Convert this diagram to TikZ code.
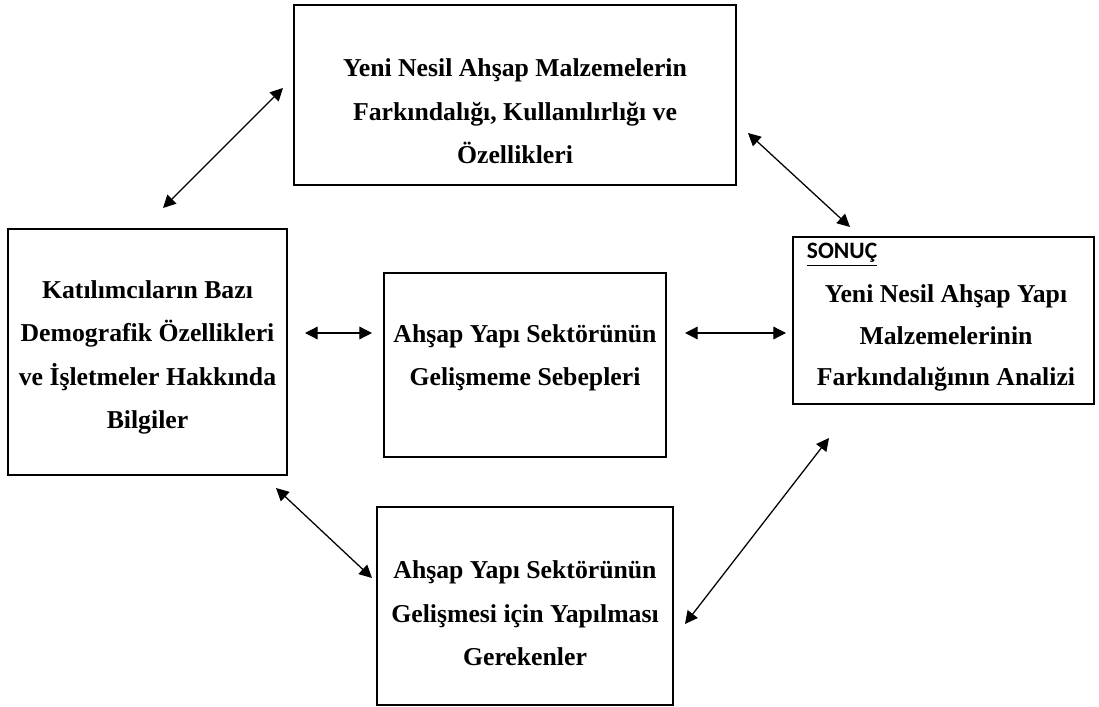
\documentclass[tikz,border=0pt]{standalone}
\usepackage{fontspec}
\setmainfont{Liberation Serif}
\newfontfamily\sonucfont{Carlito}
\usetikzlibrary{arrows.meta}

\tikzset{
    kutu/.style={draw, line width=0.9pt, inner sep=0pt},
    yazi/.style={align=center, font=\fontsize{18.3}{30.8}\selectfont\bfseries},
    cift/.style={{Triangle[length=9pt,width=9pt]}-{Triangle[length=9pt,width=9pt]}, line width=0.9pt},
}

\begin{document}
\begin{tikzpicture}[x=0.025cm, y=-0.025cm]

        % Page frame
        \useasboundingbox (0,0) rectangle (1099,707);

        % Boxes
        \node[kutu, minimum width=11.05cm, minimum height=4.5cm] (ust) at (515,95) {};
        \node[kutu, minimum width=6.975cm, minimum height=6.15cm] (sol) at (147.5,352) {};
        \node[kutu, minimum width=7.05cm, minimum height=4.6cm] (orta) at (525,365) {};
        \node[kutu, minimum width=7.525cm, minimum height=4.175cm] (sag) at (943.5,320.5) {};
        \node[kutu, minimum width=7.4cm, minimum height=4.95cm] (alt) at (525,606) {};

        % Texts in the boxes
        \node[yazi] (ust-yazi) at (515,111.5) {
            Yeni Nesil Ahşap Malzemelerin\\
            Farkındalığı, Kullanılırlığı ve\\
            Özellikleri
        };
        \node[yazi] (sol-yazi) at (147.5,357.5) {
            Katılımcıların Bazı\\
            Demografik Özellikleri\\
            ve İşletmeler Hakkında\\
            Bilgiler
        };
        \node[yazi] (orta-yazi) at (525,358) {
            Ahşap Yapı Sektörünün\\
            Gelişmeme Sebepleri
        };
        \node[anchor=base west, font=\sonucfont\fontsize{16.7}{20}\selectfont\bfseries] (sonuc) at (802,259) {\underline{SONUÇ}};
        \node[yazi, font=\fontsize{18.3}{29.5}\selectfont\bfseries] (sag-yazi) at (946,338) {
            Yeni Nesil Ahşap Yapı\\
            Malzemelerinin\\
            Farkındalığının Analizi
        };
        \node[yazi] (alt-yazi) at (525,613.5) {
            Ahşap Yapı Sektörünün\\
            Gelişmesi için Yapılması\\
            Gerekenler
        };

        % Arrow ends
        \coordinate (a1) at (163,208);
        \coordinate (a2) at (283,88);
        \coordinate (b1) at (748,133);
        \coordinate (b2) at (850,227);
        \coordinate (c1) at (305,333);
        \coordinate (c2) at (372,333);
        \coordinate (d1) at (685,333);
        \coordinate (d2) at (786,333);
        \coordinate (e1) at (276,488);
        \coordinate (e2) at (372,578);
        \coordinate (f1) at (685,624);
        \coordinate (f2) at (829,438);

        % Double arrows
        \foreach \p/\q in {a1/a2, b1/b2, c1/c2, d1/d2, e1/e2, f1/f2} {
            \draw[cift] (\p) -- (\q);
        }

\end{tikzpicture}
\end{document}
